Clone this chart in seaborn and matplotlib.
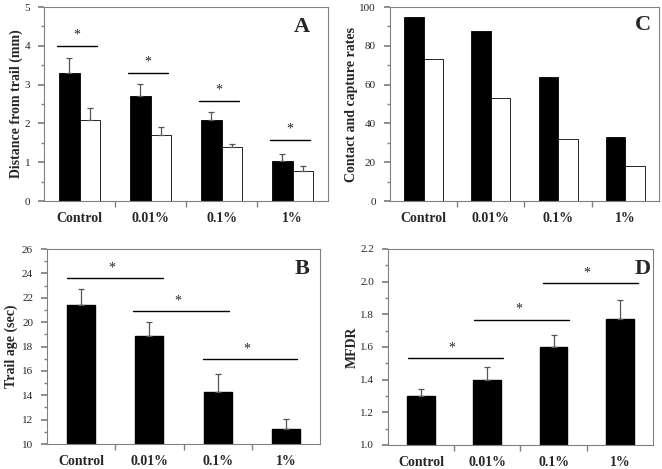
import numpy as np
import pandas as pd
import matplotlib
matplotlib.use('Agg')
import matplotlib.pyplot as plt
import seaborn as sns

sns.set_theme(style='white')
plt.rcParams['font.family'] = ['Liberation Serif', 'DejaVu Serif']

# categories
dosis = ['Control', '0.01%', '0.1%', '1%']

# panel A: distance from trail (mm)
dist_negro = [3.3, 2.7, 2.1, 1.02]
dist_negro_err = [0.38, 0.32, 0.2, 0.18]
dist_blanco = [2.1, 1.7, 1.4, 0.77]
dist_blanco_err = [0.3, 0.22, 0.08, 0.13]
dist_sig_y = [4.0, 3.3, 2.57, 1.57]

# panel C: contact and capture rates
tasa_contacto = [95, 87.5, 64, 33]
tasa_captura = [73, 53, 32, 18]

# panel B: trail age (sec)
edad = [21.4, 18.9, 14.3, 11.2]
edad_err = [1.3, 1.1, 1.45, 0.85]
edad_sig = [(-0.21, 1.2, 23.6), (0.76, 2.17, 20.9), (1.78, 3.17, 16.95)]

# panel D: MFDR
mfdr = [1.30, 1.40, 1.60, 1.77]
mfdr_err = [0.045, 0.075, 0.075, 0.12]
mfdr_sig = [(-0.2, 1.23, 1.53), (0.8, 2.24, 1.765), (1.84, 3.27, 1.99)]

GRIS = '#808080'


def estilo(ax, ylim, mayor, menor, ylabel, letra, lx, ly, pad=2):
    ax.set_ylim(*ylim)
    ax.set_xlim(-0.5, 3.5)
    ax.set_yticks(np.arange(ylim[0], ylim[1] + 1e-9, mayor))
    ax.set_yticks(np.arange(ylim[0], ylim[1] + 1e-9, menor), minor=True)
    ax.set_xticks(range(4))
    ax.set_xticklabels(dosis, fontsize=10, fontweight='bold')
    ax.set_xticks([0.5, 1.5, 2.5], minor=True)
    ax.tick_params(axis='x', which='major', length=0, pad=8)
    ax.tick_params(axis='x', which='minor', length=4, color=GRIS, direction='out', bottom=True)
    ax.tick_params(axis='y', which='major', length=4, color=GRIS, direction='out', left=True, labelsize=8, pad=6)
    ax.tick_params(axis='y', which='minor', length=2, color=GRIS, direction='out', left=True)
    ax.set_xlabel('')
    ax.set_ylabel(ylabel, fontsize=10, fontweight='bold', labelpad=pad)
    for s in ax.spines.values():
        s.set_color(GRIS)
        s.set_linewidth(0.8)
    ax.text(lx, ly, letra, transform=ax.transAxes, fontsize=16, fontweight='bold',
            ha='center', va='center')


def errores(ax, patches, err):
    for p, e in zip(patches, err):
        x = p.get_x() + p.get_width() / 2
        y = p.get_height() + p.get_y()
        ax.errorbar(x, y, yerr=[[0], [e]], fmt='none', ecolor='#555555',
                    elinewidth=0.9, capsize=2.5, capthick=0.9)


fig = plt.figure(figsize=(6.62, 4.69), dpi=100)
axA = fig.add_axes([0.0665, 0.5714, 0.429, 0.4136])
axC = fig.add_axes([0.589, 0.5714, 0.4063, 0.4136])
axB = fig.add_axes([0.071, 0.0533, 0.4124, 0.4157])
axD = fig.add_axes([0.586, 0.0512, 0.4003, 0.418])

# A
dfA = pd.DataFrame({'dosis': dosis * 2,
                    'valor': dist_negro + dist_blanco,
                    'serie': ['n'] * 4 + ['b'] * 4})
sns.barplot(data=dfA, x='dosis', y='valor', hue='serie', palette=['black', 'white'],
            width=0.58, gap=0, edgecolor='black', linewidth=0.6, errorbar=None,
            legend=False, ax=axA)
errores(axA, axA.patches[:4], dist_negro_err)
errores(axA, axA.patches[4:8], dist_blanco_err)
for i, y in enumerate(dist_sig_y):
    axA.plot([i - 0.32, i + 0.24], [y, y], color='black', lw=1.0)
    axA.text(i - 0.04, y + 0.12, '*', ha='center', va='bottom', fontsize=10)
estilo(axA, (0, 5), 1, 0.5, 'Distance from trail (mm)', 'A', 0.908, 0.897, pad=1)

# C
dfC = pd.DataFrame({'dosis': dosis * 2,
                    'valor': tasa_contacto + tasa_captura,
                    'serie': ['n'] * 4 + ['b'] * 4})
sns.barplot(data=dfC, x='dosis', y='valor', hue='serie', palette=['black', 'white'],
            width=0.58, gap=0, edgecolor='black', linewidth=0.6, errorbar=None,
            legend=False, ax=axC)
estilo(axC, (0, 100), 20, 10, 'Contact and capture rates', 'C', 0.94, 0.907, pad=1)

# B
sns.barplot(x=dosis, y=edad, color='black', width=0.41, edgecolor='black',
            errorbar=None, ax=axB)
errores(axB, axB.patches[:4], edad_err)
for x0, x1, y in edad_sig:
    axB.plot([x0, x1], [y, y], color='black', lw=1.0)
    axB.text((x0 + x1) / 2 - 0.05, y + 0.3, '*', ha='center', va='bottom', fontsize=10)
estilo(axB, (10, 26), 2, 1, 'Trail age (sec)', 'B', 0.934, 0.90, pad=3)

# D
sns.barplot(x=dosis, y=mfdr, color='black', width=0.42, edgecolor='black',
            errorbar=None, ax=axD)
errores(axD, axD.patches[:4], mfdr_err)
for x0, x1, y in mfdr_sig:
    axD.plot([x0, x1], [y, y], color='black', lw=1.0)
    axD.text((x0 + x1) / 2 - 0.05, y + 0.025, '*', ha='center', va='bottom', fontsize=10)
estilo(axD, (1.0, 2.2), 0.2, 0.1, 'MFDR', 'D', 0.96, 0.90, pad=1)
axD.yaxis.set_major_formatter(matplotlib.ticker.FormatStrFormatter('%.1f'))

fig.savefig('out.png', dpi=100)
